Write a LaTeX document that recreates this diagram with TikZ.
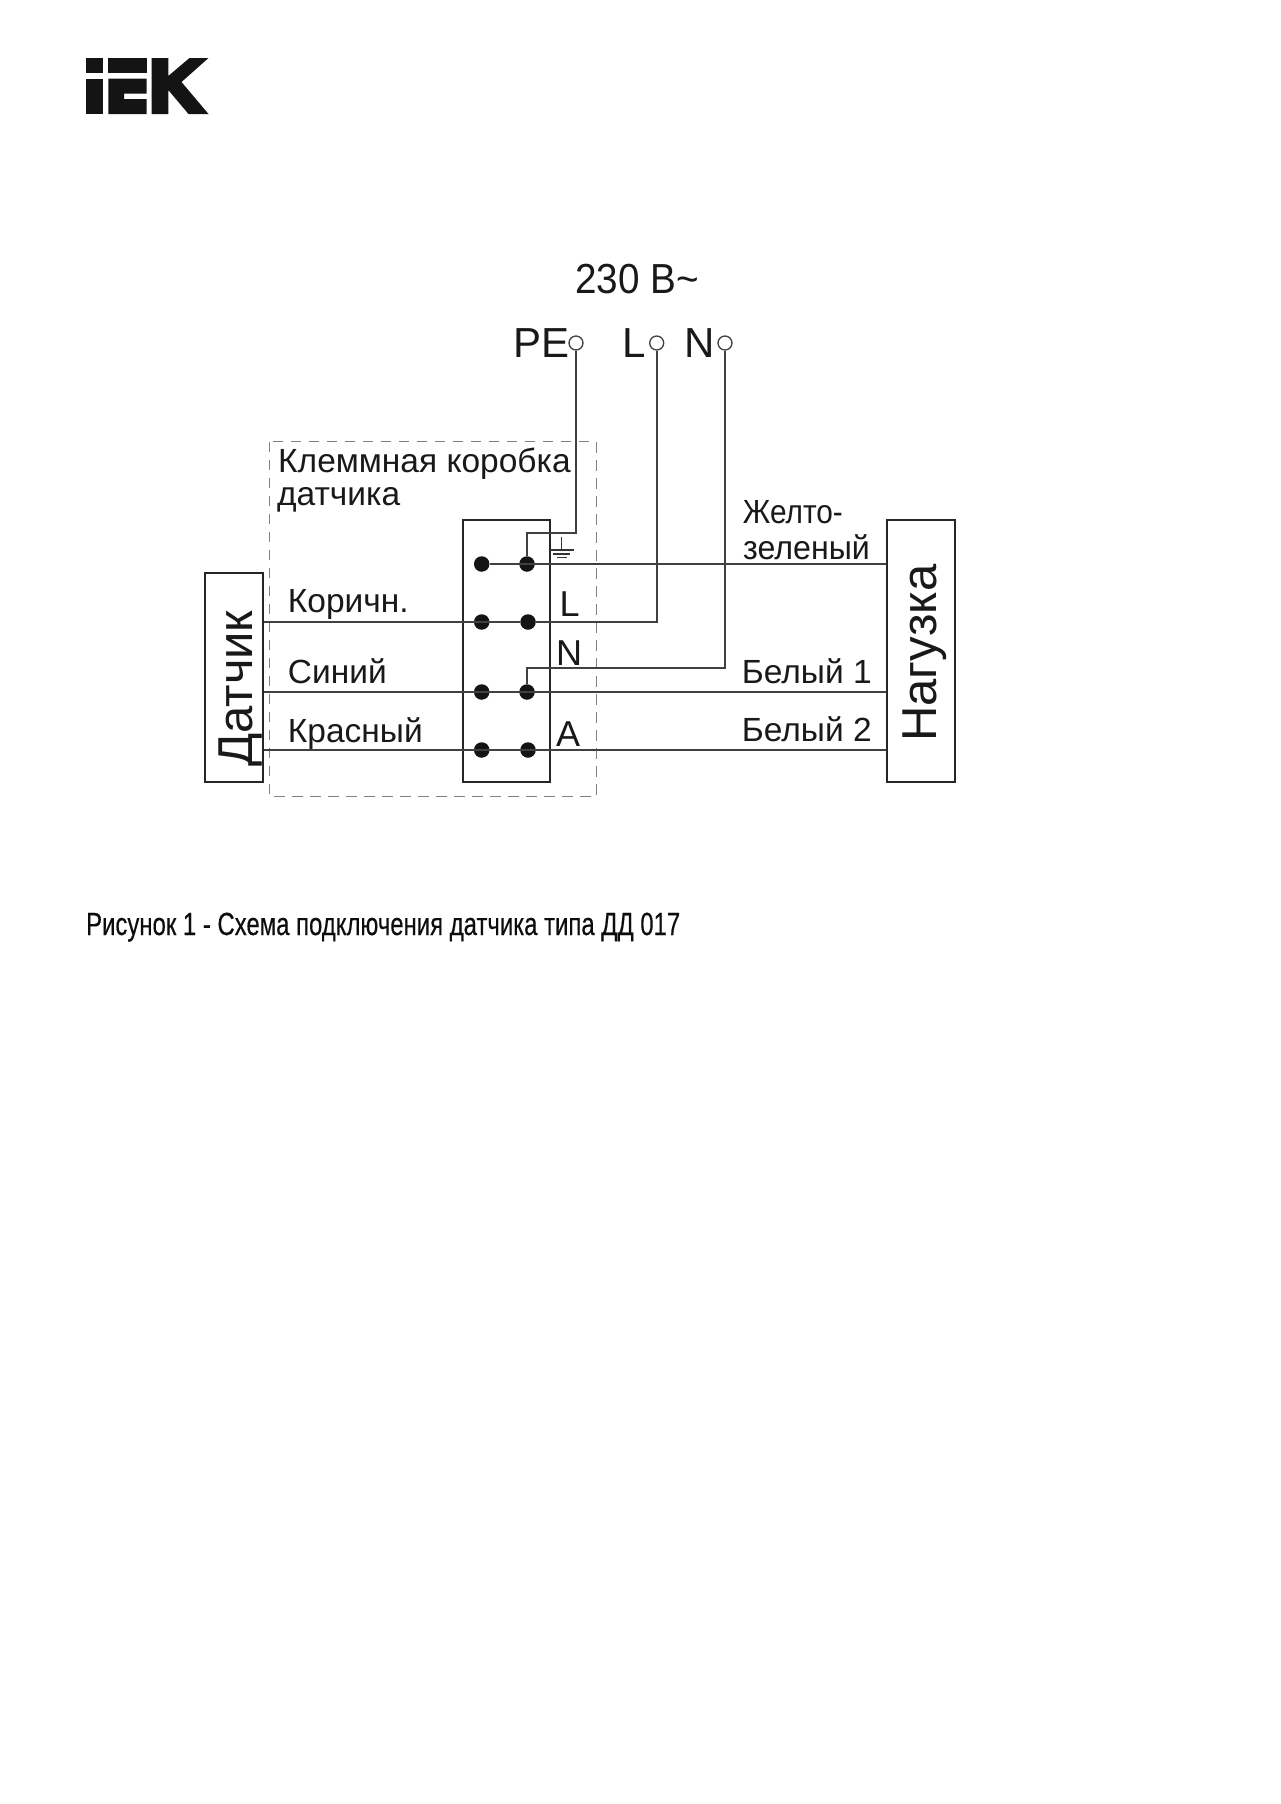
\documentclass[tikz,border=0pt]{standalone}
\usepackage{fontspec}
\setmainfont{Liberation Sans}
\newfontfamily\capfont[FakeBold=0.35]{Liberation Sans}
\begin{document}
\begin{tikzpicture}[x=1pt,y=-1pt,
  wire/.style={draw=black!75,line width=1.8pt},
  boxn/.style={draw=black!85,line width=1.7pt,inner sep=0pt,fill=none},
  dot/.style={circle,fill=black!92,inner sep=0pt,minimum size=15.5pt},
  term/.style={circle,draw=black!75,fill=white,line width=1.3pt,inner sep=0pt,minimum size=14pt},
  lbl/.style={anchor=base west,inner sep=0pt,text=black!90,font=\fontsize{33.5}{33.5}\selectfont},
  pin/.style={anchor=base west,inner sep=0pt,text=black!90,font=\fontsize{36}{36}\selectfont},
  big/.style={anchor=base west,inner sep=0pt,text=black!90,font=\fontsize{42}{42}\selectfont},
  vert/.style={anchor=base west,inner sep=0pt,text=black!90,rotate=90,font=\fontsize{49}{49}\selectfont},
  frame/.style={draw=black!50,line width=1.4pt,dash pattern=on 10.5pt off 7.5pt}]
\useasboundingbox (0,0) rectangle (1280,1804);
\fill[white] (0,0) rectangle (1280,1804);
% logo
\fill[black!92] (86,58) rectangle (102.7,73);
\fill[black!92] (86,78.7) rectangle (102.7,114);
\fill[black!92] (108.3,58) rectangle (146.7,73);
\fill[black!92] (108.3,78.7) -- (146.7,78.7) -- (146.7,93.5) -- (124,93.5) -- (124,99) -- (146.7,99) -- (146.7,114) -- (108.3,114) -- cycle;
\fill[black!92] (151.7,58) -- (168.3,58) -- (168.3,76) -- (189.5,58) -- (208.5,58) -- (181.5,82) -- (208.5,114) -- (188.5,114) -- (168.3,90) -- (168.3,114) -- (151.7,114) -- cycle;
% frame
\draw[frame] (269.3,441.7) rectangle (596.3,796.7);
% boxes
\node[boxn,minimum width=57.7pt,minimum height=208.4pt] (sensor) at (233.85,677.5) {};
\node[boxn,minimum width=86.7pt,minimum height=261.4pt] (tbox) at (506.35,651) {};
\node[boxn,minimum width=68pt,minimum height=261.7pt] (load) at (921,650.85) {};
% terminals
\node[term] (cPE) at (576,343) {};
\node[term] (cL) at (656.7,343) {};
\node[term] (cN) at (725,343) {};
% dots
\node[dot] (d1l) at (481.7,564) {};
\node[dot] (d1r) at (527,564) {};
\node[dot] (d2l) at (481.7,622) {};
\node[dot] (d2r) at (528,622) {};
\node[dot] (d3l) at (481.7,692) {};
\node[dot] (d3r) at (527,692) {};
\node[dot] (d4l) at (481.7,750) {};
\node[dot] (d4r) at (528,750) {};
% wires
\coordinate (peb) at (576,532.7);
\coordinate (nb) at (725,668.3);
\draw[wire] (d1l) -- (load.west |- d1l);
\draw[wire] (sensor.east |- d2l) -- (d2r);
\draw[wire] (d2r) -| (cL.south);
\draw[wire] (sensor.east |- d3l) -- (load.west |- d3l);
\draw[wire] (sensor.east |- d4l) -- (load.west |- d4l);
\draw[wire] (cPE.south) -- (peb) -| (d1r);
\draw[wire] (cN.south) -- (nb) -| (d3r);
% earth symbol
\coordinate (g0) at (561.7,536.7);
\coordinate (g1) at (561.7,550);
\draw[black!80,line width=1.1pt] (g0) -- (g1) (550,550) -- (574,550) (553,554) -- (570,554) (557,557.7) -- (567,557.7);
% texts
\node[big,xscale=.92] (volt) at (575,293) {230 В\char"007E};
\node[big] (tPE) at (513,357.3) {PE};
\node[big] (tL) at (622,357.3) {L};
\node[big] (tN) at (684,357.3) {N};
\node[lbl] (t1) at (278,472) {Клеммная коробка};
\node[lbl] (t2) at (277,505.5) {датчика};
\node[lbl] (t3) at (287.7,612.5) {Коричн.};
\node[lbl] (t4) at (287.7,683) {Синий};
\node[lbl] (t5) at (287.7,742) {Красный};
\node[pin] (t6) at (559.5,616) {L};
\node[pin] (t7) at (556,665) {N};
\node[pin] (t8) at (556,746) {A};
\node[lbl,xscale=.89] (t9) at (742.7,523) {Желто-};
\node[lbl,xscale=.96] (t10) at (743,559) {зеленый};
\node[lbl] (t11) at (741.7,683) {Белый 1};
\node[lbl] (t12) at (741.7,741.5) {Белый 2};
\node[vert] (tsens) at (252,767) {Датчик};
\node[vert] (tload) at (936.7,742) {Нагузка};
\node[anchor=base west,inner sep=0pt,text=black!95,font=\capfont\fontsize{32}{32}\selectfont,xscale=.747] (cap) at (86,935) {Рисунок 1 - Схема подключения датчика типа ДД 017};
\end{tikzpicture}
\end{document}
